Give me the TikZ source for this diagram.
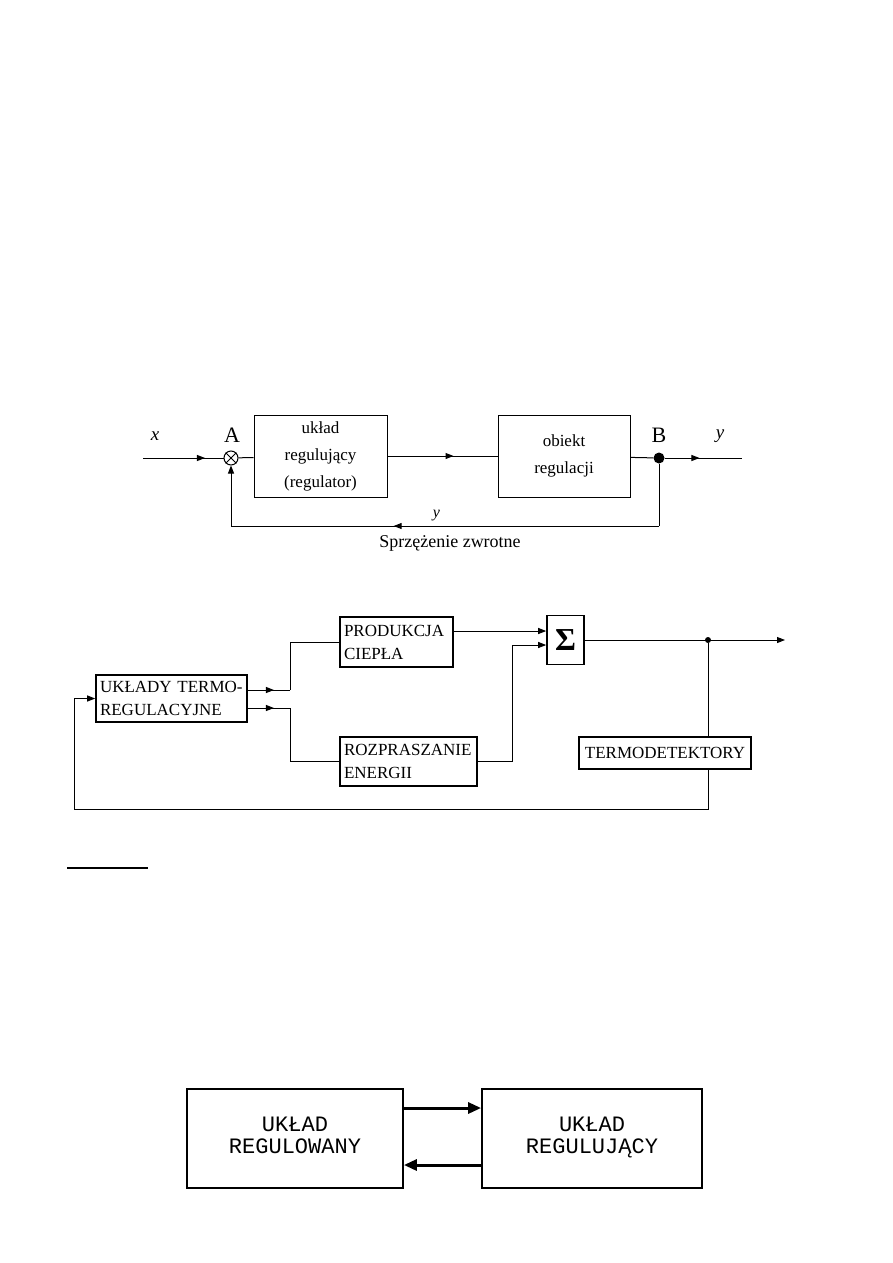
\documentclass[tikz,border=0pt]{standalone}
\usepackage{fontspec}
\setmainfont{Liberation Serif}
\newfontfamily\typefont{Liberation Mono}
\usetikzlibrary{arrows.meta,positioning,decorations.markings}

\begin{document}
\begin{tikzpicture}[x=1pt,y=-1pt,>={Triangle[length=8pt,width=6pt]},
 block/.style={draw,line width=1pt,align=center,inner sep=0pt,font=\fontsize{17}{27}\selectfont},
 scanbox/.style={draw,line width=1.6pt,align=left,inner xsep=4pt,inner ysep=0pt,font=\fontsize{17}{23}\selectfont},
 bigbox/.style={draw,line width=1.8pt,align=center,minimum width=216pt,minimum height=99pt,font=\typefont\fontsize{22}{21}\selectfont},
 dot/.style={circle,fill,inner sep=0pt,minimum size=#1},
 midarr/.style={postaction={decorate},decoration={markings,mark=at position #1 with {\arrow{>}}}},
 line/.style={line width=1pt},
 heavy/.style={line width=3pt,-{Triangle[length=13pt,width=11pt]}}]
\useasboundingbox (0,0) rectangle (893,1263);

% schemat z wezlem sumacyjnym A i rozgalezieniem B
\node[circle,draw,line width=1pt,minimum size=14pt,inner sep=0pt] (sumA) at (231,458) {};
\draw[line width=0.8pt] (sumA.north west) -- (sumA.south east) (sumA.north east) -- (sumA.south west);
\node[font=\fontsize{22}{22}\selectfont] (labA) at (232,435) {A};
\node[block,minimum width=133pt,minimum height=82pt] (reg) at (320.5,456) {układ\\regulujący\\(regulator)};
\node[block,minimum width=132pt,minimum height=82pt] (obj) at (564,456) {obiekt\\regulacji};
\node[dot=11pt] (B) at (659,458) {};
\node[font=\fontsize{22}{22}\selectfont] (labB) at (659,435) {B};
\node[font=\itshape\fontsize{19}{19}\selectfont] (labx) at (155,436) {x};
\node[font=\itshape\fontsize{19}{19}\selectfont] (laby) at (720,436) {y};
\coordinate (xin) at (143,458);
\coordinate (yout) at (742,458);
\coordinate (fbR) at (659,526);
\coordinate (fbL) at (231,526);
\draw[line,midarr=0.77] (xin) -- (sumA);
\draw[line] (sumA) -- (reg);
\draw[line,midarr=0.6] (reg) -- (obj);
\draw[line] (obj) -- (B);
\draw[line,midarr=0.45] (B) -- (yout);
\draw[line] (B) -- (fbR);
\draw[line,midarr=0.62] (fbR) -- node[above=1pt,pos=0.52,font=\itshape\fontsize{16}{16}\selectfont] (labfb) {y} (fbL);
\draw[line,->] (fbL) -- (sumA);
\node[font=\fontsize{18}{18}\selectfont] (fbtext) at (450,543) {Sprzężenie zwrotne};

% termoregulacja
\node[scanbox,text width=143pt,minimum height=47pt] (uk) at (171.5,698.5) {UKŁADY TERMO-\\REGULACYJNE};
\node[scanbox,text width=105pt,minimum height=50pt] (prod) at (396.5,642) {PRODUKCJA\\CIEPŁA};
\node[scanbox,text width=129pt,minimum height=49pt] (rozp) at (408.5,761.5) {ROZPRASZANIE\\ENERGII};
\node[draw,line width=1.6pt,minimum width=37pt,minimum height=49pt,inner sep=0pt,font=\bfseries\fontsize{32}{32}\selectfont] (sum) at (565.5,640) {Σ};
\node[draw,line width=1.6pt,minimum width=172pt,minimum height=32pt,inner sep=0pt,font=\fontsize{17}{17}\selectfont] (term) at (665,753) {TERMODETEKTORY};
\node[dot=6pt] (tap) at (708,640) {};
\coordinate (ukA) at ([yshift=8.5pt]uk.east);
\coordinate (ukB) at ([yshift=-9.5pt]uk.east);
\coordinate (splitA) at (290,690);
\coordinate (splitB) at (290,708);
\coordinate (sumin1) at ([yshift=9pt]sum.west);
\coordinate (sumin2) at ([yshift=-5pt]sum.west);
\coordinate (rozpout) at (512,761.5);
\coordinate (out2) at (785,640);
\coordinate (fb2) at (74,809);
\draw[line,midarr=0.62] (ukA) -- (splitA);
\draw[line] (splitA) |- (prod.west);
\draw[line,midarr=0.62] (ukB) -- (splitB);
\draw[line] (splitB) |- (rozp.west);
\draw[line,->] (prod.east |- sumin1) -- (sumin1);
\draw[line,->] (rozp.east) -- (rozpout) |- (sumin2);
\draw[line,->] (sum.east) -- (out2);
\draw[line] (tap) -- (tap |- term.north);
\draw[line,->] (tap |- term.south) |- (fb2) |- (uk.west);

\draw[line width=1.5pt] (67,868) -- (148,868);

% uklad regulowany i regulujacy
\node[bigbox] (regd) at (295,1138.5) {\strut UKŁAD\\\strut REGULOWANY};
\node[bigbox,minimum width=220pt] (regg) at (592,1138.5) {\strut UKŁAD\\\strut REGULUJĄCY};
\draw[heavy] ([yshift=30.5pt]regd.east) -- ([yshift=30.5pt]regg.west);
\draw[heavy] ([yshift=-26.5pt]regg.west) -- ([yshift=-26.5pt]regd.east);
\end{tikzpicture}
\end{document}
